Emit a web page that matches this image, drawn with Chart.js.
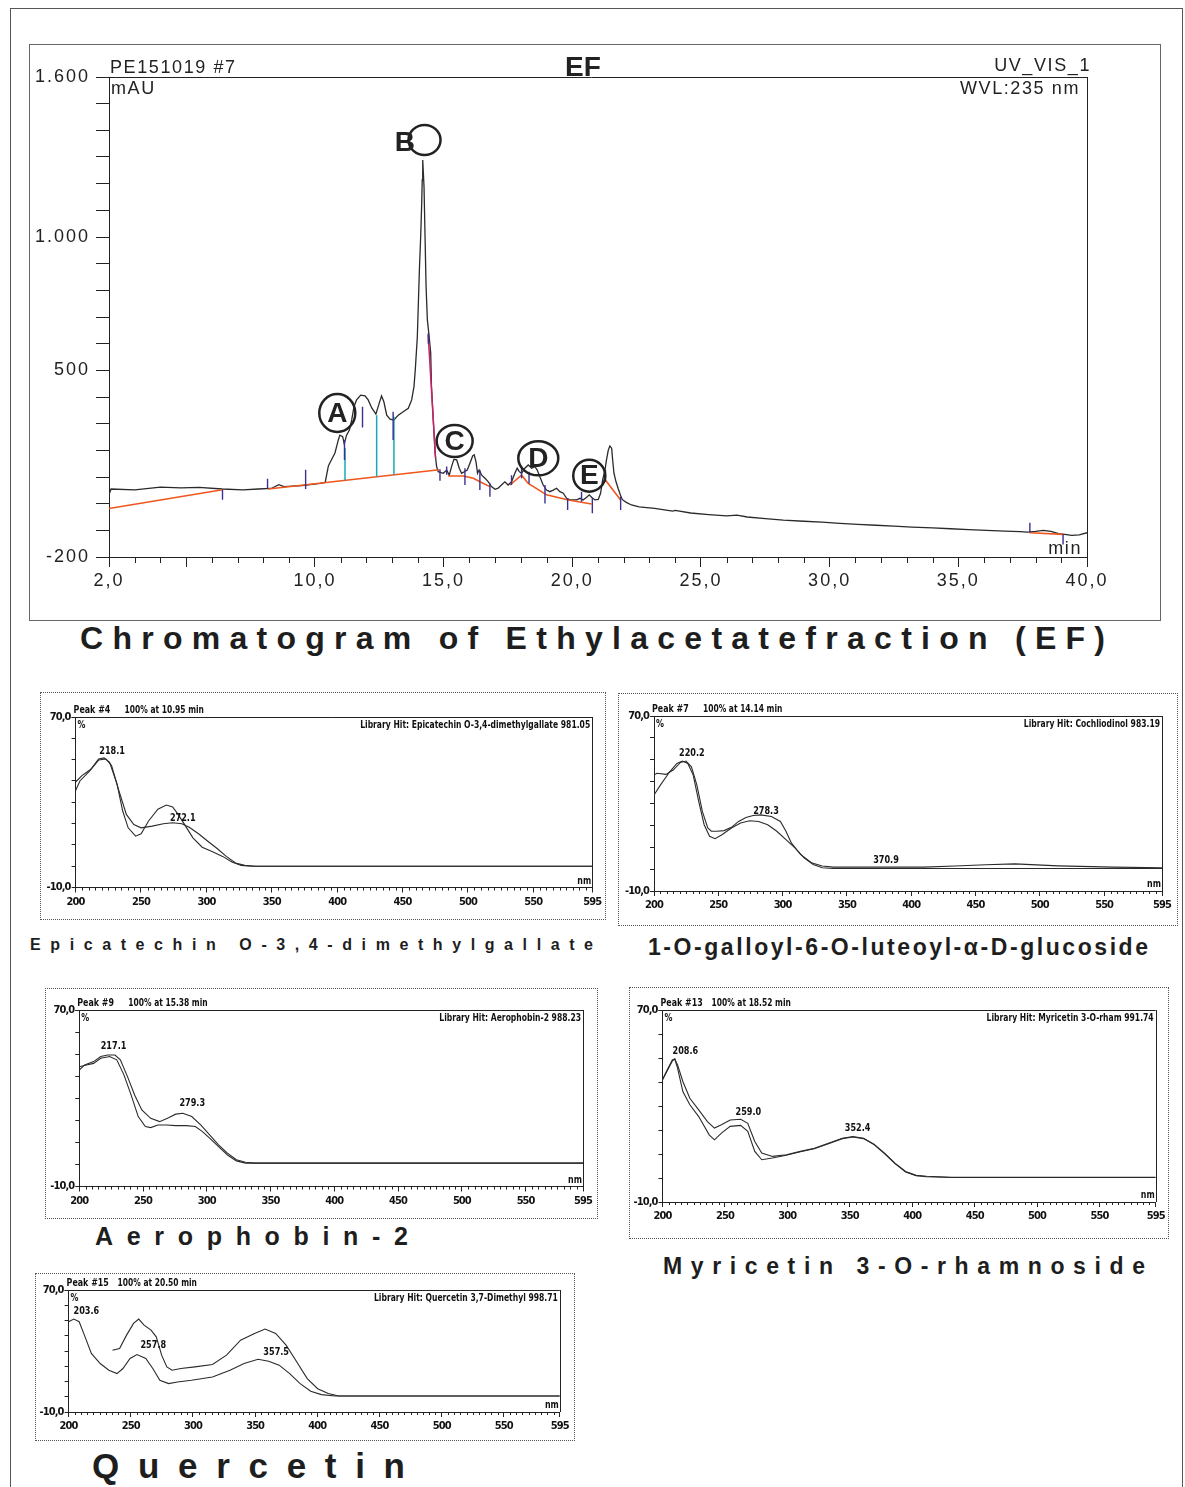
<!DOCTYPE html>
<html>
<head>
<meta charset="utf-8">
<title>Chromatogram of Ethylacetatefraction (EF)</title>
<script src="https://cdn.jsdelivr.net/npm/chart.js@4.4.1/dist/chart.umd.min.js"></script>
<style>
  html, body { margin:0; padding:0; background:#fff; }
  body { position:relative; width:1185px; height:1487px; overflow:hidden; font-family:"Liberation Sans", Arial, sans-serif; color:#1e1e1e; }
  .page { position:absolute; left:10px; top:8px; width:1171px; height:1495px; border:1px solid #555; }
  .box { position:absolute; box-sizing:border-box; }
  .main { border:1.5px solid #666; }
  .spec { border:1px dotted #555; }
  canvas { position:absolute; }
  .cap { position:absolute; white-space:nowrap; font-weight:bold; line-height:1; color:#1e1e1e; }
</style>
</head>
<body>
<div class="page"></div>

<script>
// ---- main chromatogram (EF, UV_VIS_1, 235 nm) ----
const chromTime = [2.0, 2.08, 3.0, 4.0, 4.8, 5.5, 6.4, 7.2, 7.8, 8.3, 8.6, 8.8, 9.5, 10.2, 10.4, 10.52,
  10.56, 10.78, 10.91, 10.97, 11.08, 11.14, 11.23, 11.34, 11.43, 11.52, 11.62, 11.78, 11.95, 12.07, 12.21,
  12.37, 12.50, 12.59, 12.68, 12.79, 12.92, 13.07, 13.24, 13.43, 13.63, 13.76, 13.85, 13.90, 13.98, 14.02,
  14.06, 14.11, 14.15, 14.17, 14.19, 14.24, 14.28, 14.32, 14.37, 14.44, 14.50, 14.53, 14.60, 14.67, 14.73,
  14.79, 14.99, 15.12, 15.22, 15.31, 15.40, 15.51, 15.61, 15.70, 15.92, 16.02, 16.13, 16.19, 16.26, 16.32,
  16.38, 16.48, 16.61, 16.74, 16.86, 17.00, 17.12, 17.25, 17.38, 17.51, 17.64, 17.77, 17.86, 17.94, 18.03,
  18.16, 18.29, 18.42, 18.55, 18.64, 18.74, 18.87, 19.00, 19.13, 19.26, 19.39, 19.52, 19.65, 19.78, 19.91,
  20.17, 20.30, 20.42, 20.56, 20.66, 20.75, 20.88, 21.01, 21.10, 21.18, 21.27, 21.33, 21.40, 21.46, 21.53,
  21.57, 21.62, 21.70, 21.79, 21.88, 21.95, 22.1, 22.3, 22.6, 23.2, 23.9, 24.0, 24.6, 25.3, 26.0, 26.4,
  26.8, 27.5, 28.2, 29.0, 29.7, 30.4, 31.1, 31.8, 32.5, 33.2, 34.0, 34.7, 35.4, 36.1, 36.8, 37.4, 37.7,
  38.0, 38.3, 38.6, 38.9, 39.2, 39.4, 39.7, 40.0];
const chromMAU = [34, 55, 52, 62, 59, 61, 55, 52, 55, 57, 71, 64, 68, 76, 80, 140,
  149, 190, 239, 257, 251, 224, 257, 276, 314, 364, 389, 407, 404, 389, 359,
  336, 377, 404, 382, 332, 317, 314, 332, 345, 358, 389, 439, 501, 626, 751,
  876, 1001, 1126, 1214, 1289, 1189, 1001, 814, 689, 626, 564, 439, 314, 189, 139,
  120, 114, 126, 107, 139, 166, 164, 133, 114, 126, 151, 179, 183, 157, 114,
  126, 107, 95, 82, 64, 54, 58, 70, 82, 70, 82, 114, 133, 120, 114,
  133, 145, 133, 139, 126, 101, 70, 51, 45, 51, 58, 45, 39, 20, 14,
  14, 20, 14, 24, 33, 24, 14, 16, 39, 89, 126, 164, 201, 216, 208,
  164, 114, 82, 55, 30, 15, 5, -5, -12, -18, -28, -25, -35, -41, -46, -43,
  -50, -56, -62, -66, -69, -74, -78, -81, -84, -88, -91, -94, -97, -100, -103, -105, -107,
  -104, -100, -104, -112, -116, -119, -117, -109];

// integration baselines (null = break)
const baseTime = [2.0, 6.41, null, 8.19, 14.83, null, 15.18, 15.77, 16.16, 16.41, 16.80, null,
  17.58, 18.03, 18.29, 19.0, 19.85, 20.75, null, 21.27, 21.88, null, 37.78, 39.07];
const baseMAU = [-18, 52, null, 55, 127, null, 104, 104, 95, 82, 64, null,
  70, 107, 76, 33, 14, -1, null, 91, 14, null, -109, -115];

// peak start / end markers
const markTime = [6.41, 8.16, 9.64, 11.15, 11.85, 13.04, 14.41, 14.86, 15.12, 15.83, 16.41, 16.80,
  17.64, 18.03, 18.32, 18.94, 19.82, 20.36, 20.78, 21.29, 21.88, 37.78, 39.07];
const markTop = [52, 93, 127, 239, 363, 345, 640, 129, 139, 133, 126, 76,
  107, 139, 120, 70, 20, 45, 20, 126, 26, -72, -115];
const markBottom = [15, 58, 55, 164, 286, 239, 600, 86, 108, 70, 51, 26,
  70, 95, 76, 1, -24, 7, -36, 82, -24, -109, -153];

// perpendicular drops between co-eluting peaks
const dropTime = [11.17, 12.40, 13.07];
const dropTop = [209, 332, 326];
const dropBottom = [88, 101, 108];

// tangent skim on the tail of peak B
const skimTime = [14.40, 14.69];
const skimMAU = [635, 170];

// circled peak letters
const peakLetters = ['A', 'B', 'C', 'D', 'E'];
const peakCircleTime = [10.87, 14.26, 15.43, 18.68, 20.66];
const peakCircleMAU = [340, 1364, 235, 170, 105];
const peakLetterTime = [10.87, 13.50, 15.43, 18.68, 20.66];
const peakLetterMAU = [340, 1356, 235, 170, 105];

const xMajorTicks = [2, 5, 10, 15, 20, 25, 30, 35, 40];
const xLabelValues = [2, 10, 15, 20, 25, 30, 35, 40];
const xLabelTexts = ['2,0', '10,0', '15,0', '20,0', '25,0', '30,0', '35,0', '40,0'];
const yTicks = [-200, -100, 0, 100, 200, 300, 400, 500, 600, 700, 800, 900, 1000, 1100, 1200, 1300, 1400, 1500, 1600];
const yLabelValues = [1600, 1000, 500, -200];
const yLabelTexts = ['1.600', '1.000', '500', '-200'];

// ---- UV spectra (library match: two traces each) ----
const p1WaveA = [200, 203.4, 210.5, 217.6, 221.8, 226, 231.7, 236, 240.2, 245.9, 250.1, 255.8, 262.9, 269.4, 274.2, 278.4, 284.1, 289.7, 296.8, 303.9, 312.4, 319.5, 326.6, 335, 595];
const p1AbsA = [35.5, 40.1, 44.5, 50.3, 50.8, 48.7, 38.5, 25.9, 18.0, 14.1, 15.2, 21.2, 26.7, 28.7, 27.8, 24.3, 18.8, 13.3, 8.9, 7.0, 4.6, 2.0, 0.4, 0, 0];
const p1WaveB = [200, 204.8, 211.9, 217.6, 223.2, 227.5, 233.1, 238.8, 244.5, 250.1, 258.6, 267.1, 274.2, 281.3, 286.9, 294, 301.1, 308.2, 315.2, 322.3, 329.4, 337.9, 595];
const p1AbsB = [39.5, 42.5, 45.6, 49.8, 50.3, 47.2, 35.4, 24.3, 19.5, 18.0, 18.8, 19.9, 20.4, 19.9, 18.3, 15.2, 11.7, 8.3, 4.6, 1.5, 0.4, 0, 0];
const p1LabelNm = [218.1, 272.1];
const p1LabelAbs = [52.5, 21.3];
const p1LabelText = ['218.1', '272.1'];

const p2WaveA = [200, 202.3, 209.3, 214.9, 220.6, 224.9, 229.1, 233.3, 237.6, 241.8, 244.6, 248.9, 254.5, 260.2, 265.8, 271.5, 277.1, 282.8, 291.3, 298.3, 302.6, 306.8, 313.9, 322.4, 330.8, 339.3, 410, 434, 458, 480.6, 514.5, 557, 595];
const p2AbsA = [43.0, 43.8, 43.3, 45.3, 48.8, 49.4, 46.8, 38.5, 26.4, 18.8, 17.3, 17.3, 17.6, 19.1, 21.8, 23.6, 24.5, 24.8, 24.1, 21.8, 17.3, 12.0, 6.7, 2.9, 1.4, 0.9, 0.9, 1.4, 2.0, 2.4, 1.5, 0.9, 0.6];
const p2WaveB = [200, 205.1, 212.2, 217.8, 222.0, 226.3, 230.5, 234.8, 239.0, 243.2, 247.5, 253.1, 260.2, 267.3, 274.3, 281.4, 288.4, 295.5, 302.6, 309.6, 316.7, 323.8, 330.8, 339.3, 595];
const p2AbsB = [33.9, 38.5, 44.5, 48.3, 49.4, 48.3, 43.0, 30.9, 20.3, 15.0, 13.9, 15.8, 18.8, 21.1, 22.1, 21.8, 20.3, 17.3, 13.5, 9.7, 5.2, 2.1, 0.6, 0.3, 0.3];
const p2LabelNm = [219.5, 277.1, 370.4];
const p2LabelAbs = [51.5, 25.3, 3.0];
const p2LabelText = ['220.2', '278.3', '370.9'];

const p3WaveA = [200, 204.2, 211.2, 216.8, 222.4, 228, 232.2, 237.8, 243.4, 249, 256, 263, 270, 275.6, 281.2, 288.2, 295.2, 302.2, 309.2, 316.2, 323.2, 330.3, 337.3, 595];
const p3AbsA = [42.8, 45.1, 46.6, 48.9, 49.6, 49.6, 47.4, 39.8, 31.5, 24.7, 20.9, 19.4, 21.2, 22.8, 23.2, 21.7, 17.9, 13.4, 8.9, 5.1, 2.1, 1.0, 0.6, 0.6];
const p3WaveB = [200, 205.6, 211.2, 216.8, 223.8, 229.4, 235, 240.6, 246.2, 251.8, 256, 261.6, 268.6, 275.6, 284, 291, 296.6, 302.2, 309.2, 316.2, 323.2, 330.3, 595];
const p3AbsB = [44.3, 45.1, 45.8, 48.1, 48.9, 47.4, 40.6, 31.5, 21.7, 17.2, 16.7, 17.9, 17.9, 17.6, 17.6, 17.2, 14.9, 11.9, 8.1, 4.3, 1.6, 0.6, 0.6];
const p3LabelNm = [216.8, 278.5];
const p3LabelAbs = [52.5, 26.3];
const p3LabelText = ['217.1', '279.3'];

const p4WaveA = [200, 203.7, 207.9, 209.8, 212.1, 216.3, 221.9, 229, 236, 241.6, 247.2, 254.2, 262.6, 268.3, 273.9, 279.5, 288, 299.2, 310.4, 321.6, 332.9, 344.1, 352.5, 361, 369.4, 377.8, 386.2, 394.7, 403.1, 411.5, 431.2, 595];
const p4AbsA = [40.9, 45.0, 49.2, 49.6, 47.1, 40.2, 33.2, 28.4, 23.5, 20.8, 22.2, 24.2, 24.5, 22.8, 15.2, 10.4, 9.0, 9.7, 11.1, 12.4, 14.5, 16.6, 17.3, 16.6, 14.1, 10.4, 6.2, 2.7, 1.1, 0.7, 0.3, 0.3];
const p4WaveB = [200, 207.9, 209.8, 212.1, 216.3, 221.9, 229, 237.4, 241.6, 247.2, 254.2, 262.6, 268.3, 273.9, 279.5, 288, 299.2, 310.4, 321.6, 332.9, 344.1, 352.5, 361, 369.4, 377.8, 386.2, 394.7, 403.1, 411.5, 431.2, 595];
const p4AbsB = [40.9, 48.8, 49.6, 45.7, 36.0, 30.5, 25.6, 18.0, 15.9, 18.7, 21.5, 21.9, 19.4, 11.1, 7.6, 8.3, 9.5, 10.9, 12.2, 14.3, 16.4, 17.1, 16.4, 13.9, 10.2, 6.0, 2.5, 1.0, 0.5, 0.2, 0.2];
const p4LabelNm = [208, 258.5, 346];
const p4LabelAbs = [51.5, 26.2, 19.5];
const p4LabelText = ['208.6', '259.0', '352.4'];

const p5WaveA = [200, 204.2, 208.5, 212.7, 218.3, 225.4, 232.4, 238.9, 243.7, 249.4, 255, 262.1, 267.7, 273.4, 280.4, 287.5, 298.8, 315.7, 329.8, 341.1, 352.4, 360.8, 369.3, 377.8, 386.2, 394.7, 403.2, 414.5, 595];
const p5AbsA = [49.2, 50.9, 49.2, 40.4, 28.4, 21.8, 17.4, 15.2, 18.5, 25.1, 27.7, 25.1, 18.5, 10.8, 8.6, 9.7, 10.8, 13.0, 17.4, 21.8, 24.6, 23.3, 20.7, 15.2, 8.6, 3.6, 1.4, 0.5, 0.5];
const p5WaveB = [235.3, 241, 246.6, 252.2, 256.4, 260.7, 266.3, 270.5, 274.8, 279, 283.2, 290.3, 301.6, 315.7, 327, 338.3, 349.5, 358, 366.5, 374.9, 383.4, 391.9, 400.3, 408.8, 417.3, 595];
const p5AbsB = [30.5, 31.6, 40.4, 48.1, 50.9, 47.0, 43.7, 39.3, 27.3, 19.6, 17.4, 18.5, 19.6, 21.1, 27.3, 37.1, 41.5, 44.4, 41.5, 33.8, 22.9, 11.9, 5.3, 2.1, 0.5, 0.5];
const p5LabelNm = [204, 257.8, 356.6];
const p5LabelAbs = [54, 31.8, 27.5];
const p5LabelText = ['203.6', '257.8', '357.5'];

const specXTicks = [200, 250, 300, 350, 400, 450, 500, 550, 595];
const specYTicks = [-10, 0, 10, 20, 30, 40, 50, 60, 70];

// ---- drawing ----
const SANS = '"Liberation Sans", Arial, sans-serif';
const NARROW = '"Liberation Sans Narrow", "Arial Narrow", "DejaVu Sans Condensed", sans-serif';
const INK = '#222';
Chart.defaults.font.family = SANS;

function xy(xs, ys) { return xs.map((v, i) => ({ x: v, y: ys[i] })); }
function sticks(ts, tops, bots) {
  return ts.flatMap((t, i) => [{ x: t, y: tops[i] }, { x: t, y: bots[i] }, { x: t, y: null }]);
}
function addBox(cls, l, t, w, h) {
  const d = document.createElement('div');
  d.className = 'box ' + cls;
  Object.assign(d.style, { left: l + 'px', top: t + 'px', width: w + 'px', height: h + 'px' });
  document.body.appendChild(d);
}
function addCanvas(l, t, w, h) {
  const c = document.createElement('canvas');
  c.width = w; c.height = h;
  Object.assign(c.style, { left: l + 'px', top: t + 'px', width: w + 'px', height: h + 'px' });
  document.body.appendChild(c);
  return c;
}
// squeezed text, like the condensed print of the DAD software
function narrowText(ctx, text, x, y, align, sx) {
  ctx.save();
  ctx.translate(x, y);
  ctx.scale(sx, 1);
  ctx.textAlign = align;
  ctx.fillText(text, 0, 0);
  ctx.restore();
}

// letter spacing set before the library draws, so ticks get it too
function spacing(px) {
  return { id: 'spacing', beforeDraw(chart) { chart.ctx.letterSpacing = px; } };
}

const circleR = { rx: [18, 16, 18, 20, 16], ry: [19, 15, 16, 17, 16] };

const chromDecor = {
  id: 'chromDecor',
  afterDraw(chart) {
    const { ctx, chartArea: a, scales: { x, y } } = chart;
    ctx.save();
    ctx.strokeStyle = INK; ctx.lineWidth = 1;
    ctx.beginPath();
    ctx.moveTo(a.left - 13, Math.round(a.top) + 0.5); ctx.lineTo(a.right, Math.round(a.top) + 0.5);
    ctx.moveTo(Math.round(a.right) + 0.5, a.top); ctx.lineTo(Math.round(a.right) + 0.5, a.bottom + 10);
    for (let t = 3; t < 40; t++) {
      if (t % 5 === 0) continue;
      const px = Math.round(x.getPixelForValue(t)) + 0.5;
      ctx.moveTo(px, a.bottom); ctx.lineTo(px, a.bottom + 6);
    }
    ctx.stroke();

    ctx.fillStyle = INK;
    ctx.font = '18px ' + SANS;
    ctx.letterSpacing = '1.6px';
    ctx.textBaseline = 'alphabetic';
    ctx.textAlign = 'left';
    ctx.fillText('PE151019 #7', a.left + 1, a.top - 4);
    ctx.fillText('mAU', a.left + 2, a.top + 17);
    ctx.textAlign = 'right';
    ctx.fillText('UV_VIS_1', a.right + 4, a.top - 6);
    ctx.fillText('WVL:235 nm', a.right - 7, a.top + 17);
    ctx.fillText('min', a.right - 5, a.bottom - 3);
    ctx.letterSpacing = '0px';
    ctx.textAlign = 'center';
    ctx.font = 'bold 28px ' + SANS;
    ctx.fillText('EF', 554, a.top - 1);

    peakLetters.forEach((L, i) => {
      const cx = x.getPixelForValue(peakCircleTime[i]);
      const cy = y.getPixelForValue(peakCircleMAU[i]);
      ctx.beginPath();
      ctx.ellipse(cx, cy, circleR.rx[i], circleR.ry[i], 0, 0, Math.PI * 2);
      ctx.lineWidth = 2.5; ctx.strokeStyle = INK; ctx.stroke();
      ctx.font = 'bold 28px ' + SANS;
      ctx.textBaseline = 'middle';
      ctx.fillText(L, x.getPixelForValue(peakLetterTime[i]), y.getPixelForValue(peakLetterMAU[i]) + 1);
    });
    ctx.restore();
  }
};

// main chromatogram
addBox('main', 29, 44, 1132, 577);
const chromCanvas = addCanvas(29, 44, 1131, 576);
new Chart(chromCanvas, {
  type: 'scatter',
  data: {
    datasets: [
      { data: sticks(markTime, markTop, markBottom), showLine: true, borderColor: '#3a3190', borderWidth: 1.4, pointRadius: 0, order: 0 },
      { data: sticks(dropTime, dropTop, dropBottom), showLine: true, borderColor: '#1aa9b4', borderWidth: 1.5, pointRadius: 0, order: 1 },
      { data: xy(skimTime, skimMAU), showLine: true, borderColor: '#c8246a', borderWidth: 1.5, pointRadius: 0, order: 1 },
      { data: xy(baseTime, baseMAU), showLine: true, borderColor: '#f0561c', borderWidth: 1.6, pointRadius: 0, order: 2 },
      { data: xy(chromTime, chromMAU), showLine: true, borderColor: '#2a2a2a', borderWidth: 1.3, pointRadius: 0, order: 3 }
    ]
  },
  options: {
    responsive: false, animation: false, devicePixelRatio: 1, events: [],
    layout: { padding: { left: 0, top: 33, right: 73, bottom: 0 } },
    plugins: { legend: { display: false }, tooltip: { enabled: false } },
    scales: {
      x: {
        type: 'linear', min: 2, max: 40,
        afterFit: s => { s.height = 63; },
        afterBuildTicks: s => { s.ticks = xMajorTicks.map(v => ({ value: v })); },
        ticks: {
          autoSkip: false, maxRotation: 0, minRotation: 0, padding: 3, color: INK,
          font: { size: 18 },
          callback: v => { const k = xLabelValues.indexOf(v); return k < 0 ? '' : xLabelTexts[k]; }
        },
        grid: { drawOnChartArea: false, tickLength: 10, color: INK, lineWidth: 1 },
        border: { color: INK, width: 1 }
      },
      y: {
        min: -200, max: 1600,
        afterFit: s => { s.width = 80; },
        afterBuildTicks: s => { s.ticks = yTicks.map(v => ({ value: v })); },
        ticks: {
          autoSkip: false, padding: 6, color: INK, font: { size: 18 },
          callback: v => { const k = yLabelValues.indexOf(v); return k < 0 ? '' : yLabelTexts[k]; }
        },
        grid: { drawOnChartArea: false, tickLength: 13, color: INK, lineWidth: 1 },
        border: { color: INK, width: 1 }
      }
    }
  },
  plugins: [spacing('2px'), chromDecor]
});

// spectra panels
const spectra = [
  { box: [40, 692, 566, 228], area: [75.6, 717, 592.2, 887.5], peak: 'Peak #4', at: '100% at 10.95 min',
    hit: 'Library Hit: Epicatechin O-3,4-dimethylgallate 981.05',
    curves: [[p1WaveA, p1AbsA], [p1WaveB, p1AbsB]], labels: [p1LabelNm, p1LabelAbs, p1LabelText] },
  { box: [618, 693, 560, 233], area: [654, 716, 1162, 891], peak: 'Peak #7', at: '100% at 14.14 min',
    hit: 'Library Hit: Cochliodinol 983.19',
    curves: [[p2WaveA, p2AbsA], [p2WaveB, p2AbsB]], labels: [p2LabelNm, p2LabelAbs, p2LabelText] },
  { box: [45, 988, 553, 231], area: [79.3, 1010, 583, 1186.5], peak: 'Peak #9', at: '100% at 15.38 min',
    hit: 'Library Hit: Aerophobin-2 988.23',
    curves: [[p3WaveA, p3AbsA], [p3WaveB, p3AbsB]], labels: [p3LabelNm, p3LabelAbs, p3LabelText] },
  { box: [629, 987, 540, 252], area: [662.5, 1010, 1156, 1202], peak: 'Peak #13', at: '100% at 18.52 min',
    hit: 'Library Hit: Myricetin 3-O-rham 991.74',
    curves: [[p4WaveA, p4AbsA], [p4WaveB, p4AbsB]], labels: [p4LabelNm, p4LabelAbs, p4LabelText] },
  { box: [35, 1273, 540, 168], area: [68.6, 1290, 559.8, 1412], peak: 'Peak #15', at: '100% at 20.50 min',
    hit: 'Library Hit: Quercetin 3,7-Dimethyl 998.71',
    curves: [[p5WaveA, p5AbsA], [p5WaveB, p5AbsB]], labels: [p5LabelNm, p5LabelAbs, p5LabelText] }
];

const specFont = 'bold 11px ' + NARROW;

function specDecor(cfg) {
  return {
    id: 'specDecor',
    afterDraw(chart) {
      const { ctx, chartArea: a, scales: { x, y } } = chart;
      ctx.save();
      ctx.letterSpacing = '0px';
      ctx.strokeStyle = INK; ctx.lineWidth = 1;
      ctx.beginPath();
      ctx.moveTo(a.left - 4, Math.round(a.top) + 0.5); ctx.lineTo(a.right, Math.round(a.top) + 0.5);
      ctx.moveTo(Math.round(a.right) + 0.5, a.top); ctx.lineTo(Math.round(a.right) + 0.5, a.bottom);
      for (let w = 205; w < 595; w += 5) {
        if (w % 50 === 0) continue;
        const px = Math.round(x.getPixelForValue(w)) + 0.5;
        ctx.moveTo(px, a.bottom); ctx.lineTo(px, a.bottom + 3);
      }
      ctx.stroke();

      ctx.fillStyle = '#111';
      ctx.font = specFont;
      ctx.textBaseline = 'alphabetic';
      narrowText(ctx, cfg.peak, a.left - 2, a.top - 4, 'left', 0.8);
      narrowText(ctx, cfg.at, a.left + 49, a.top - 4, 'left', 0.76);
      narrowText(ctx, '%', a.left + 2, a.top + 11, 'left', 0.8);
      const [nm, ab, tx] = cfg.labels;
      tx.forEach((t, i) => narrowText(ctx, t, x.getPixelForValue(nm[i]), y.getPixelForValue(ab[i]), 'left', 0.82));
      narrowText(ctx, cfg.hit, a.right - 2, a.top + 11, 'right', 0.77);
      narrowText(ctx, 'nm', a.right - 1, a.bottom - 4, 'right', 0.8);
      ctx.restore();
    }
  };
}

spectra.forEach(cfg => {
  const [l, t, w, h] = cfg.box;
  const [L, T, R, B] = cfg.area;
  addBox('spec', l, t, w, h);
  const cv = addCanvas(l, t, w, h);
  const padL = L - l, padT = T - t, padR = l + w - R, padB = t + h - B;
  new Chart(cv, {
    type: 'scatter',
    data: {
      datasets: cfg.curves.map(([wv, ab]) => ({
        data: xy(wv, ab), showLine: true, borderColor: '#2b2b2b', borderWidth: 1.1, pointRadius: 0
      }))
    },
    options: {
      responsive: false, animation: false, devicePixelRatio: 1, events: [],
      layout: { padding: { left: 0, top: padT, right: padR, bottom: 0 } },
      plugins: { legend: { display: false }, tooltip: { enabled: false } },
      scales: {
        x: {
          type: 'linear', min: 200, max: 595,
          afterFit: s => { s.height = padB; },
          afterBuildTicks: s => { s.ticks = specXTicks.map(v => ({ value: v })); },
          ticks: { autoSkip: false, maxRotation: 0, minRotation: 0, padding: 3, color: '#111',
            font: { family: NARROW, size: 11, weight: 'bold' }, callback: v => String(v) },
          grid: { drawOnChartArea: false, tickLength: 5, color: INK },
          border: { color: INK, width: 1 }
        },
        y: {
          min: -10, max: 70,
          afterFit: s => { s.width = padL; },
          afterBuildTicks: s => { s.ticks = specYTicks.map(v => ({ value: v })); },
          ticks: { autoSkip: false, padding: 1, color: '#111',
            font: { family: NARROW, size: 11, weight: 'bold' },
            callback: v => (v === 70 ? '70,0' : v === -10 ? '-10,0' : '') },
          grid: { drawOnChartArea: false, tickLength: 4, color: INK },
          border: { color: INK, width: 1 }
        }
      }
    },
    plugins: [spacing('-0.9px'), specDecor(cfg)]
  });
});

// captions, spread to the width they take in the figure
const captions = [
  { text: 'Chromatogram of Ethylacetatefraction (EF)', left: 80, right: 1105, cy: 640, size: 32 },
  { text: 'Epicatechin O-3,4-dimethylgallate', left: 30, right: 593, cy: 946, size: 16 },
  { text: '1-O-galloyl-6-O-luteoyl-α-D-glucoside', left: 648, right: 1148, cy: 949, size: 23 },
  { text: 'Aerophobin-2', left: 95, right: 408, cy: 1238, size: 25 },
  { text: 'Myricetin 3-O-rhamnoside', left: 663, right: 1145, cy: 1268, size: 23 },
  { text: 'Quercetin', left: 92, right: 405, cy: 1468, size: 35 }
];
captions.forEach(c => {
  const d = document.createElement('div');
  d.className = 'cap';
  d.textContent = c.text;
  d.style.fontSize = c.size + 'px';
  d.style.left = c.left + 'px';
  d.style.top = (c.cy - 0.56 * c.size) + 'px';
  document.body.appendChild(d);
  const natural = d.getBoundingClientRect().width;
  const gap = (c.right - c.left - natural) / (c.text.length - 1);
  d.style.letterSpacing = Math.max(0, gap) + 'px';
});
</script>
</body>
</html>
